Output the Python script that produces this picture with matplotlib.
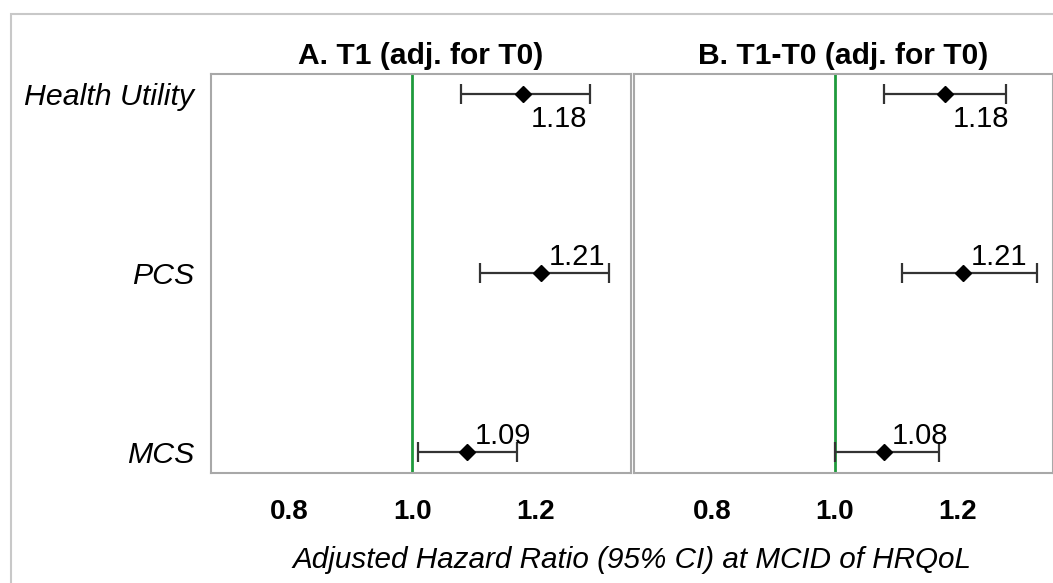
import numpy as np
import matplotlib.pyplot as plt
from matplotlib.patches import Rectangle

plt.rcParams['font.family'] = ['Liberation Sans', 'DejaVu Sans']

# data
categories = ['Health Utility', 'PCS', 'MCS']
titles = ['A. T1 (adj. for T0)', 'B. T1-T0 (adj. for T0)']
hr_a = [1.18, 1.21, 1.09]
lo_a = [1.08, 1.11, 1.01]
hi_a = [1.29, 1.32, 1.17]
hr_b = [1.18, 1.21, 1.08]
lo_b = [1.08, 1.11, 1.00]
hi_b = [1.28, 1.33, 1.17]
xticks = [0.8, 1.0, 1.2]
xticklabels = ['0.8', '1.0', '1.2']

W, H = 1053, 583
fig = plt.figure(figsize=(W / 100, H / 100), dpi=100)

# outer light grey frame (runs off the right/bottom edge)
fig.patches.append(Rectangle((11 / W, -0.2), 1.5, 1.2 - 14 / H,
                             transform=fig.transFigure, fill=False,
                             edgecolor='#c8c8c8', linewidth=1.5))

pos = [[211 / W, 110 / H, 420 / W, 399 / H],
       [634 / W, 110 / H, 419 / W, 399 / H]]
series = [(hr_a, lo_a, hi_a), (hr_b, lo_b, hi_b)]
y = np.arange(len(categories))

for i, (hr, lo, hi) in enumerate(series):
    ax = fig.add_axes(pos[i])
    hr = np.array(hr)
    err = [hr - np.array(lo), np.array(hi) - hr]
    ax.axvline(1.0, color='#1f9a3c', linewidth=2, zorder=1)
    ax.errorbar(hr, y, xerr=err, fmt='D', color='black', ecolor='#333333',
                elinewidth=1.6, capsize=7, capthick=1.6, markersize=8.5, zorder=3)
    for j in range(len(hr)):
        if j == 0:
            ax.annotate(f'{hr[j]:.2f}', (hr[j], y[j]), xytext=(5.5, -8),
                        textcoords='offset points', ha='left', va='top', fontsize=21)
        else:
            ax.annotate(f'{hr[j]:.2f}', (hr[j], y[j]), xytext=(5.5, 6),
                        textcoords='offset points', ha='left', va='baseline', fontsize=21)
    ax.set_xlim(0.673, 1.356)
    ax.set_ylim(2.117, -0.112)
    ax.set_xticks(xticks)
    ax.set_xticklabels(xticklabels, fontsize=20, fontweight='bold')
    ax.tick_params(axis='x', length=0, pad=19)
    if i == 0:
        ax.set_yticks(y)
        ax.set_yticklabels(categories, fontsize=21.8, style='italic')
        ax.tick_params(axis='y', length=0, pad=12)
    else:
        ax.set_yticks([])
    for s in ax.spines.values():
        s.set_color('#a8a8a8')
        s.set_linewidth(1.5)
    ax.text(0.5, 1 + 10 / 399, titles[i], transform=ax.transAxes, ha='center',
            va='baseline', fontsize=21.6, fontweight='bold')

fig.text(632 / W, 15 / H, 'Adjusted Hazard Ratio (95% CI) at MCID of HRQoL',
         ha='center', va='baseline', fontsize=21.3, style='italic')

fig.savefig('out.png', dpi=100)
